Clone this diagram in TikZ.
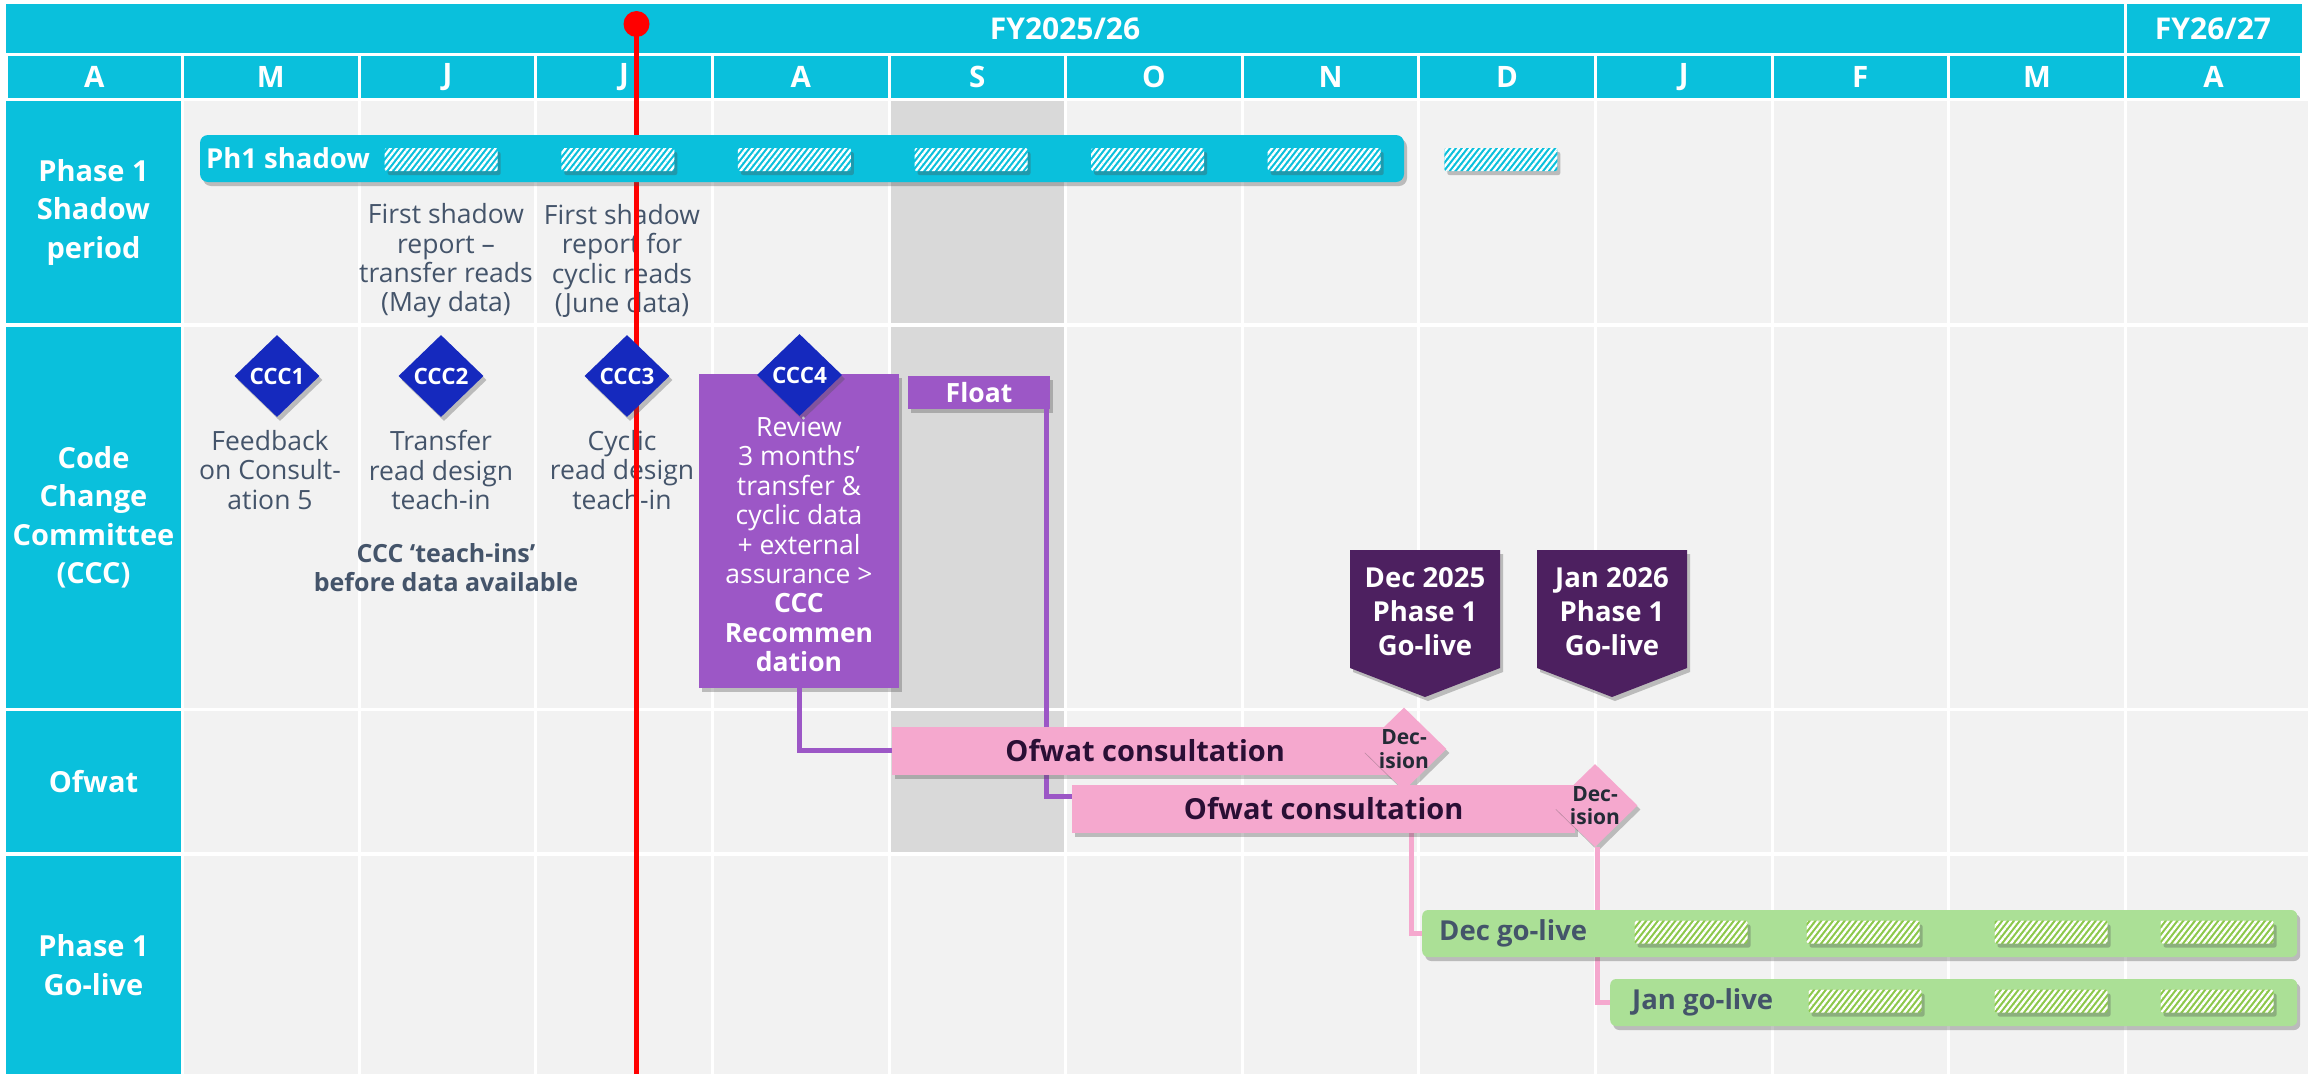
\documentclass[tikz,border=0pt]{standalone}
\usepackage{fontspec}
\setmainfont{Open Sans}
\usepackage{xcolor}
\usepackage{tikz}
\usetikzlibrary{shapes.geometric, arrows.meta, positioning, shadows, patterns.meta}

\definecolor{hdrcyan}{HTML}{0AC0DC}
\definecolor{bodygray}{HTML}{F2F2F2}
\definecolor{floatgray}{HTML}{D9D9D9}
\definecolor{todayred}{HTML}{FF0000}
\definecolor{cccblue}{HTML}{1529BE}
\definecolor{revpurple}{HTML}{9C57C6}
\definecolor{tagpurple}{HTML}{4D2060}
\definecolor{ofwatpink}{HTML}{F5A8CE}
\definecolor{ofwatink}{HTML}{2A0F35}
\definecolor{decink}{HTML}{232B36}
\definecolor{livegreen}{HTML}{ABE096}
\definecolor{hatchgreen}{HTML}{8CC84B}
\definecolor{noteink}{HTML}{44546A}

\newcommand{\txtsize}[2]{\fontsize{#1}{#2}\selectfont}

\begin{document}
\begin{tikzpicture}[
  x=1pt, y=-1pt,
  softshadow/.style={drop shadow={shadow xshift=3pt, shadow yshift=-4pt,
                     opacity=0.33, fill=black!70}},
  hdrcell/.style={rectangle, fill=hdrcyan, text=white, font=\txtsize{29.5}{32}\bfseries,
                  minimum width=173.6pt, minimum height=42pt, inner sep=0pt},
  rowlabel/.style={rectangle, fill=hdrcyan, text=white, font=\txtsize{29}{38.5}\bfseries,
                   align=center, minimum width=175pt, inner sep=0pt},
  notetext/.style={text=noteink, font=\txtsize{26.5}{29.4}, align=center, inner sep=0pt},
  cccmark/.style={diamond, fill=cccblue, text=white, font=\txtsize{22.5}{24}\bfseries,
                  minimum width=85pt, minimum height=82pt, inner sep=0pt, softshadow},
  decision/.style={diamond, fill=ofwatpink, text=decink, font=\txtsize{21}{23.5}\bfseries,
                   align=center, minimum width=85pt, minimum height=83pt,
                   inner sep=-7pt, softshadow},
  ganttbar/.style={rectangle, minimum height=48pt, inner sep=0pt, softshadow},
  barlabel/.style={font=\txtsize{27.5}{30}\bfseries, inner sep=0pt},
  hatchbox/.style={rectangle, rounded corners=2pt, minimum width=113pt,
                   minimum height=23pt, inner sep=0pt, softshadow,
                   postaction={pattern={Lines[angle=52, distance=4.6pt, line width=2.3pt]},
                               pattern color=white}},
  tagtext/.style={text=white, font=\txtsize{27.5}{34}\bfseries, align=center, inner sep=0pt},
  linkline/.style={line width=5pt}
]
\path[use as bounding box, fill=white] (0,0) rectangle (2308,1074);

\fill[hdrcyan] (6,4) rectangle (2302,53);
\draw[white, line width=3pt] (2125,4) -- (2125,53);
\node[text=white, font=\txtsize{30}{32}\bfseries] (fy1) at (1065,28.5) {FY2025/26};
\node[text=white, font=\txtsize{30}{32}\bfseries] (fy2) at (2213,28.5) {FY26/27};

\foreach \m [count=\i from 0] in {A,M,J,J,A,S,O,N,D,J,F,M,A}
  \node[hdrcell] (mon\i) at ({94.3+176.6*\i},77) {\m};

\foreach \top/\bot in {101/323, 327/708, 711/852, 856/1074}
  \fill[bodygray] (184,\top) rectangle (2308,\bot);
\foreach \top/\bot in {101/323, 327/708, 711/852}
  \fill[floatgray] (889,\top) rectangle (1066,\bot);
\foreach \i in {2,...,12}
  \draw[white, line width=3pt] ({6+176.6*\i},101) -- ({6+176.6*\i},1074);

\node[rowlabel, minimum height=222pt] (lblshadow) at (93.5,212) {Phase 1\\Shadow\\period};
\node[rowlabel, minimum height=381pt] (lblccc)    at (93.5,517.5) {Code\\Change\\Committee\\(CCC)};
\node[rowlabel, minimum height=141pt] (lblofwat)  at (93.5,781.5) {Ofwat};
\node[rowlabel, minimum height=218pt] (lblgolive) at (93.5,965) {Phase 1\\Go-live};

\node[notetext] (rep1) at (446,261) {First shadow\\report --\\transfer reads\\(May data)};
\node[notetext] (rep2) at (622,261) {First shadow\\report for\\cyclic reads\\(June data)};
\node[notetext] (fb)   at (270,470) {Feedback\\on Consult-\\ation 5};
\node[notetext] (tr)   at (441,470) {Transfer\\read design\\teach-in};
\node[notetext] (cy)   at (622,470) {Cyclic\\read design\\teach-in};
\node[notetext, font=\txtsize{25}{29}\bfseries] (teach) at (446,568)
  {CCC ‘teach-ins’\\before data available};

\coordinate (todaytop) at (636.5,24);
\coordinate (todaybot) at (636.5,1074);
\draw[todayred, line width=4.5pt] (todaytop) -- (todaybot);

\node[cccmark] (ccc1) at (277,376) {CCC1};
\node[cccmark] (ccc2) at (441,376) {CCC2};
\node[cccmark] (ccc3) at (627,376) {CCC3};

\node[rectangle, fill=revpurple, minimum width=200pt, minimum height=314pt,
      softshadow] (review) at (799,531) {};
\node[tagtext, font=\txtsize{26.5}{29.4}] (revtxt) at ([yshift=-13.5pt]review.center)
  {Review\\3 months’\\transfer \&\\cyclic data\\+ external\\assurance >\\
   \textbf{CCC}\\\textbf{Recommen}\\\textbf{dation}};
\node[cccmark] (ccc4) at (799.5,375) {CCC4};
\node[rectangle, fill=revpurple, text=white, font=\txtsize{26.5}{29}\bfseries,
      minimum width=142pt, minimum height=33pt, inner sep=0pt, softshadow]
  (float) at (979,392.5) {Float};

\node[ganttbar, rounded corners=8pt, fill=hdrcyan, minimum width=1204pt,
      minimum height=47pt] (ph1bar) at (802,158.5) {};
\node[barlabel, text=white, right=6pt of ph1bar.west] (ph1lbl) {Ph1 shadow};
\foreach \i in {2,...,8}
  \node[hatchbox, fill=hdrcyan] (sh\i) at ({88+176.6*\i},159.5) {};

\coordinate (ofwatAw) at (892,750.5);
\coordinate (ofwatBw) at (1072,808.5);
\draw[revpurple, linkline] (review.south) |- (ofwatAw);
\draw[revpurple, linkline] ([xshift=-3.5pt]float.south east) |- ([yshift=12pt]ofwatBw);

\node[ganttbar, fill=ofwatpink, text=ofwatink, font=\txtsize{29}{32}\bfseries,
      anchor=west, minimum width=506pt] (ofwatA) at (ofwatAw) {Ofwat consultation};
\node[decision] (dec1) at (1404,749) {Dec-\\ision};

\coordinate (decbarw) at (1422,933.5);
\coordinate (janbarw) at (1610,1002.5);
\draw[ofwatpink, linkline] ([xshift=7pt]dec1.south) |- (decbarw);

\node[ganttbar, fill=ofwatpink, text=ofwatink, font=\txtsize{29}{32}\bfseries,
      anchor=west, minimum width=503pt] (ofwatB) at (ofwatBw) {Ofwat consultation};
\node[decision] (dec2) at (1595,805.5) {Dec-\\ision};
\draw[ofwatpink, linkline] ([xshift=2pt]dec2.south) |- (janbarw);

\foreach \x/\nm/\when in {1425/dectag/Dec 2025, 1612/jantag/Jan 2026} {
  \fill[tagpurple, softshadow] ({\x-75},550) -- ({\x+75},550) -- ({\x+75},668)
    -- (\x,697) -- ({\x-75},668) -- cycle;
  \node[tagtext] (\nm) at (\x,612) {\when\\Phase 1\\Go-live};
}

\node[ganttbar, rounded corners=6pt, fill=livegreen, anchor=west, minimum width=875pt,
      minimum height=47pt] (decbar) at (decbarw) {};
\node[barlabel, text=noteink, right=17pt of decbar.west] (declbl) {Dec go-live};
\foreach \x [count=\k] in {1691,1863,2051,2217}
  \node[hatchbox, fill=hatchgreen] (dh\k) at (\x,932) {};

\node[ganttbar, rounded corners=6pt, fill=livegreen, anchor=west, minimum width=687pt,
      minimum height=47pt] (janbar) at (janbarw) {};
\node[barlabel, text=noteink, right=22pt of janbar.west] (janlbl) {Jan go-live};
\foreach \x [count=\k] in {1865,2051,2217}
  \node[hatchbox, fill=hatchgreen] (jh\k) at (\x,1001) {};

\node[circle, fill=todayred, minimum size=26pt, inner sep=0pt] (today) at (todaytop) {};
\end{tikzpicture}
\end{document}
